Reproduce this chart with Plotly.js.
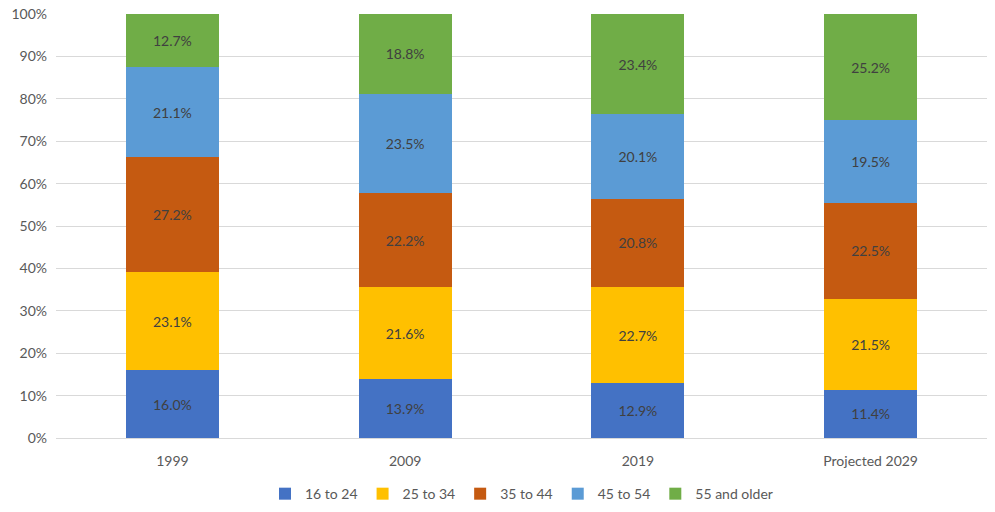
<!DOCTYPE html>
<html>
<head>
<meta charset="utf-8">
<script src="https://cdn.plot.ly/plotly-3.0.1.min.js"></script>
<style>
  html, body { margin: 0; padding: 0; background: #fff; }
  #chart { width: 995px; height: 512px; }
</style>
</head>
<body>
<div id="chart"></div>
<script>
// Share of the labor force by age group
const years = ["1999", "2009", "2019", "Projected 2029"];
const ageGroups = ["16 to 24", "25 to 34", "35 to 44", "45 to 54", "55 and older"];
const age16to24 = [16.0, 13.9, 12.9, 11.4];
const age25to34 = [23.1, 21.6, 22.7, 21.5];
const age35to44 = [27.2, 22.2, 20.8, 22.5];
const age45to54 = [21.1, 23.5, 20.1, 19.5];
const age55plus = [12.7, 18.8, 23.4, 25.2];
const colors = ["#4472C4", "#FFC000", "#C55A11", "#5B9BD5", "#70AD47"];

const series = [age16to24, age25to34, age35to44, age45to54, age55plus];
const fontFamily = "Lato, 'Open Sans', sans-serif";

const traces = series.map((vals, i) => ({
  type: "bar",
  name: ageGroups[i],
  x: years,
  y: vals,
  text: vals.map(v => v.toFixed(1) + "%"),
  texttemplate: "%{text}",
  textposition: "inside",
  insidetextanchor: "middle",
  textangle: 0,
  constraintext: "none",
  textfont: { family: fontFamily, size: 14, color: "#404040" },
  marker: { color: colors[i], line: { width: 0 } },
  hoverinfo: "skip"
}));

const layout = {
  barmode: "stack",
  bargap: 0.6,
  width: 995,
  height: 512,
  margin: { l: 56, r: 8, t: 14, b: 74, autoexpand: false },
  paper_bgcolor: "#fff",
  plot_bgcolor: "#fff",
  font: { family: fontFamily, size: 14, color: "#595959" },
  showlegend: true,
  legend: {
    orientation: "h",
    x: 0.5, xanchor: "center",
    yref: "container",
    y: 0.035, yanchor: "middle",
    font: { family: fontFamily, size: 14, color: "#595959" },
    traceorder: "normal",
    itemwidth: 30
  },
  xaxis: {
    type: "category",
    showgrid: false,
    showline: true,
    linecolor: "#d9d9d9",
    linewidth: 1,
    ticks: "",
    ticklabelstandoff: 10,
    tickfont: { family: fontFamily, size: 14, color: "#595959" }
  },
  yaxis: {
    range: [0, 100],
    dtick: 10,
    ticksuffix: "%",
    showgrid: true,
    gridcolor: "#d9d9d9",
    zeroline: false,
    showline: false,
    ticks: "",
    ticklabelstandoff: 8,
    tickfont: { family: fontFamily, size: 14, color: "#595959" }
  }
};

Plotly.newPlot("chart", traces, layout, { displayModeBar: false, staticPlot: true });
</script>
</body>
</html>
